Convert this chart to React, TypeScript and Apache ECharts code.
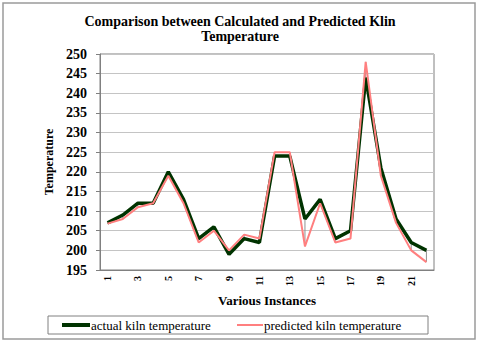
import React, { useEffect, useRef } from "react";
import * as echarts from "echarts";

const instances = ["1","2","3","4","5","6","7","8","9","10","11","12","13","14","15","16","17","18","19","20","21","22"];
const actualTemp = [207, 209, 212, 212, 220, 213, 203, 206, 199, 203, 202, 224, 224, 208, 213, 203, 205, 244, 221, 208, 202, 200];
const predictedTemp = [206.8, 208, 211, 212, 219, 212, 202, 205, 200, 204, 203, 225, 225, 201, 212, 202, 203, 248, 219, 207, 200, 197];
const legendNames = ["actual kiln temperature", "predicted kiln temperature"];

const serif = "'Liberation Serif', 'Times New Roman', serif";
const green = "#003300";
const pink = "#ff7f7f";

export default function App() {
  const ref = useRef<HTMLDivElement>(null);
  useEffect(() => {
    if (!ref.current) return;
    const chart = echarts.init(ref.current, undefined, { renderer: "svg" });
    const hl = instances.map((c, i) => [i, actualTemp[i], predictedTemp[i]]);
    chart.setOption({
      animation: false,
      backgroundColor: "#ffffff",
      title: {
        text: "Comparison between Calculated and Predicted Klin\nTemperature",
        left: "center",
        top: 9,
        textStyle: { fontFamily: serif, fontWeight: "bold", fontSize: 14, lineHeight: 15, color: "#000" },
      },
      graphic: [
        { type: "rect", shape: { x: 3, y: 3, width: 472, height: 336 }, style: { fill: "none", stroke: "#9a9a9a", lineWidth: 1.5 }, silent: true },
        { type: "rect", shape: { x: 48, y: 316, width: 380, height: 18 }, style: { fill: "none", stroke: "#808080", lineWidth: 1 }, silent: true },
        { type: "line", shape: { x1: 62, y1: 325, x2: 90, y2: 325 }, style: { stroke: green, lineWidth: 4 }, silent: true },
        { type: "text", x: 91, y: 325, style: { text: legendNames[0], fontFamily: serif, fontSize: 13, fill: "#000", verticalAlign: "middle", align: "left" }, silent: true },
        { type: "line", shape: { x1: 237, y1: 325, x2: 263, y2: 325 }, style: { stroke: pink, lineWidth: 2 }, silent: true },
        { type: "text", x: 264, y: 325, style: { text: legendNames[1], fontFamily: serif, fontSize: 13, fill: "#000", verticalAlign: "middle", align: "left" }, silent: true },
      ],
      grid: { left: 100, right: 46, top: 54, bottom: 73, show: true, borderColor: "#808080", borderWidth: 1, containLabel: false },
      xAxis: {
        type: "category",
        data: instances,
        boundaryGap: true,
        name: "Various Instances",
        nameLocation: "middle",
        nameGap: 21,
        nameTextStyle: { fontFamily: serif, fontWeight: "bold", fontSize: 13, color: "#000" },
        axisLine: { lineStyle: { color: "#808080" } },
        axisTick: { show: false },
        axisLabel: { interval: 1, rotate: 90, margin: 6, fontFamily: serif, fontWeight: "bold", fontSize: 10, color: "#000" },
      },
      yAxis: {
        type: "value",
        min: 195,
        max: 250,
        interval: 5,
        name: "Temperature",
        nameLocation: "middle",
        nameGap: 38,
        nameTextStyle: { fontFamily: serif, fontWeight: "bold", fontSize: 12, color: "#000" },
        axisLine: { show: true, lineStyle: { color: "#808080" } },
        axisTick: { show: true, length: 4, lineStyle: { color: "#808080" } },
        axisLabel: { margin: 13, fontFamily: serif, fontWeight: "bold", fontSize: 14, color: "#000" },
        splitLine: { lineStyle: { color: "#c4c4c4", width: 1.2 } },
      },
      series: [
        {
          type: "custom",
          name: "hl",
          data: hl,
          encode: { x: 0, y: [1, 2] },
          renderItem: (params: any, api: any) => {
            const p1 = api.coord([api.value(0), api.value(1)]);
            const p2 = api.coord([api.value(0), api.value(2)]);
            return {
              type: "line",
              shape: { x1: p1[0], y1: p1[1], x2: p2[0], y2: p2[1] },
              style: { stroke: "#909090", lineWidth: 1 },
            };
          },
          silent: true,
          z: 1,
        },
        {
          type: "line",
          name: legendNames[0],
          data: actualTemp,
          symbol: "none",
          lineStyle: { color: green, width: 3.5 },
          z: 2,
        },
        {
          type: "line",
          name: legendNames[1],
          data: predictedTemp,
          symbol: "none",
          lineStyle: { color: pink, width: 2 },
          z: 3,
        },
      ],
    });
    return () => chart.dispose();
  }, []);
  return <div ref={ref} style={{ position: "absolute", left: 0, top: 0, width: 480, height: 343 }} />;
}
